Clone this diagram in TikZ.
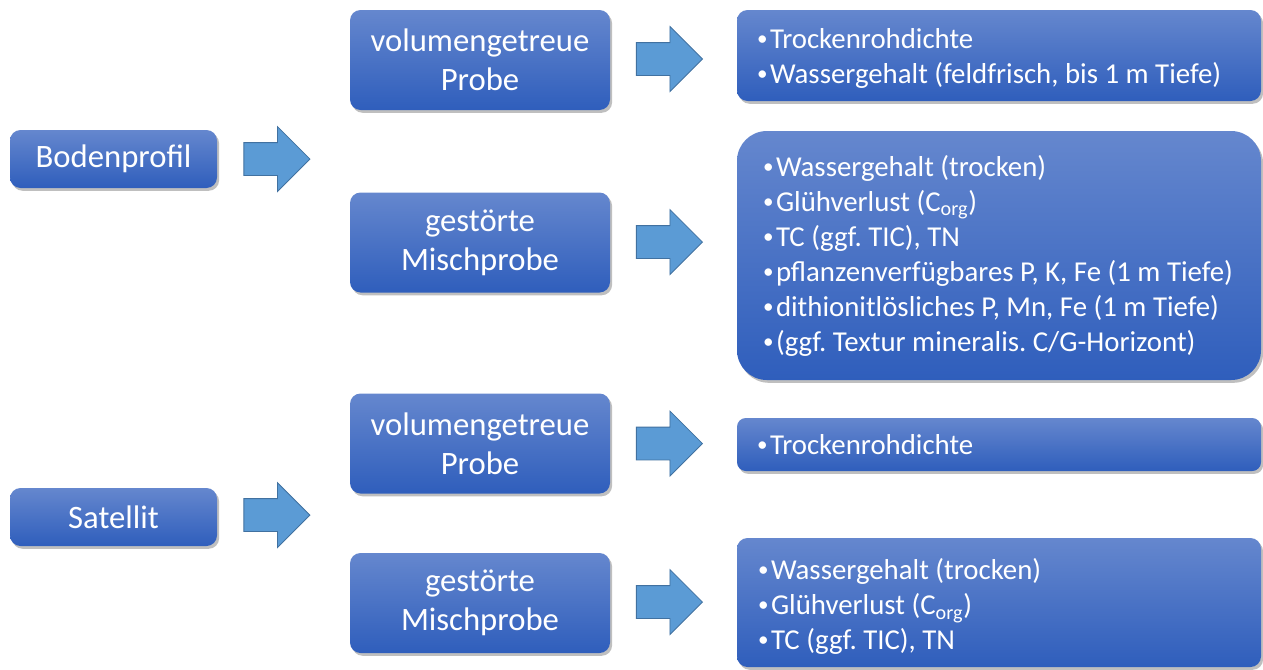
\documentclass[tikz,border=0pt]{standalone}
\usepackage{fontspec}
\setmainfont{Carlito}
\usetikzlibrary{shapes.arrows,shadows}

\definecolor{boxtop}{RGB}{101,135,206}
\definecolor{boxbot}{RGB}{47,94,188}
\definecolor{arrfill}{RGB}{91,155,213}
\definecolor{arrdraw}{RGB}{65,113,160}

\DeclareRobustCommand{\resfont}{\fontsize{16.4}{19.9}\selectfont}
\newcommand{\bul}{\makebox[7.4pt][l]{\raisebox{1.6pt}{\fontsize{12}{12}\selectfont •}}}

\begin{document}
\frenchspacing
\begin{tikzpicture}[
    myblock/.style={rectangle, top color=boxtop, bottom color=boxbot, draw=none, text=white, rounded corners=6pt, align=center,
        drop shadow={shadow xshift=1.2pt, shadow yshift=-1.6pt, opacity=0.25, fill=black}},
    srcblock/.style={myblock, minimum width=4.14cm, minimum height=1.16cm, font=\fontsize{18.6}{22}\selectfont},
    probeblock/.style={myblock, minimum width=5.2cm, minimum height=2.0cm, font=\fontsize{18.6}{22.2}\selectfont},
    resblock/.style={myblock, minimum width=10.48cm, inner sep=0pt},
    restext/.style={anchor=west, inner sep=0pt, align=left, text=white, font=\resfont},
    bigarrow/.style={single arrow, draw=arrdraw, fill=arrfill, line width=0.5pt, inner xsep=0pt, inner ysep=0.32cm,
        minimum width=1.28cm, minimum height=1.32cm, single arrow head extend=0.32cm, single arrow tip angle=90, anchor=tip},
]
\useasboundingbox (0,0) rectangle (25.26,-13.38);

\node[srcblock] (boden) at (2.27,-3.18) {Bodenprofil};
\node[srcblock] (sat)   at (2.27,-10.34) {Satellit};

\node[probeblock] (vol1) at (9.6,-1.2)   {volumengetreue\\Probe};
\node[probeblock] (mix1) at (9.6,-4.85)  {gestörte\\Mischprobe};
\node[probeblock] (vol2) at (9.6,-8.87)  {volumengetreue\\Probe};
\node[probeblock] (mix2) at (9.6,-12.06) {gestörte\\Mischprobe};

% result boxes and their lists
\node[resblock, minimum height=1.82cm] (res1) at (19.98,-1.11) {};
\node[resblock, minimum height=4.98cm, rounded corners=17pt] (res2) at (19.98,-5.11) {};
\node[resblock, minimum height=1.06cm, rounded corners=5pt] (res3) at (19.98,-8.89) {};
\node[resblock, minimum height=2.58cm] (res4) at (19.98,-12.05) {};

\node[restext] (res1txt) at ([xshift=0.4cm,yshift=-0.06cm]res1.west) {\bul Trockenrohdichte\\\bul Wassergehalt (feldfrisch, bis 1 m Tiefe)};
\node[restext] (res2txt) at ([xshift=0.52cm]res2.west)
    {\bul Wassergehalt (trocken)\\\bul Glühverlust (C\textsubscript{org})\\\bul TC (ggf. TIC), TN\\\bul pflanzenverfügbares P, K, Fe (1 m Tiefe)\\\bul dithionitlösliches P, Mn, Fe (1 m Tiefe)\\\bul (ggf. Textur mineralis. C/G-Horizont)};
\node[restext] (res3txt) at ([xshift=0.4cm]res3.west) {\bul Trockenrohdichte};
\node[restext] (res4txt) at ([xshift=0.42cm,yshift=-0.08cm]res4.west)
    {\bul Wassergehalt (trocken)\\\bul Glühverlust (C\textsubscript{org})\\\bul TC (ggf. TIC), TN};

% block arrows, placed at their tips
\node[bigarrow] (arrBoden) at (6.21,-3.18) {};
\node[bigarrow] (arrSat)   at (6.21,-10.3) {};
\node[bigarrow] (arrVol1)  at (14.06,-1.18) {};
\node[bigarrow] (arrMix1)  at (14.06,-4.84) {};
\node[bigarrow] (arrVol2)  at (14.06,-8.87) {};
\node[bigarrow] (arrMix2)  at (14.06,-12.04) {};
\end{tikzpicture}
\end{document}
